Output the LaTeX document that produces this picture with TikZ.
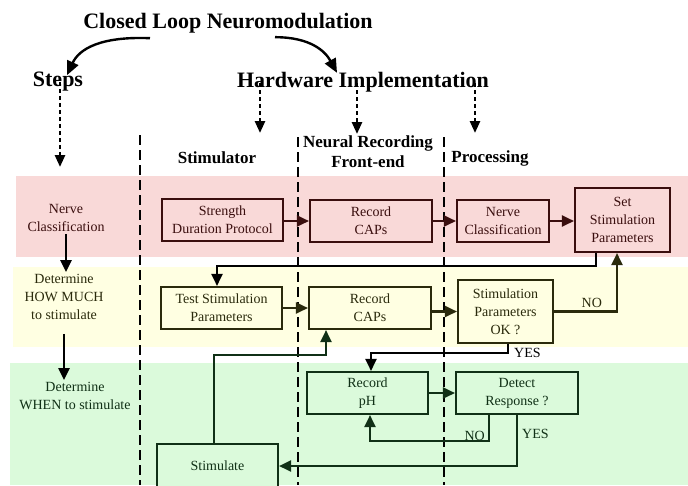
\documentclass[tikz,border=0pt]{standalone}
\usepackage{fontspec}
\setmainfont{Liberation Serif}
\usetikzlibrary{arrows.meta}
%% band and box colours
\definecolor{pinkband}{RGB}{249,217,216}
\definecolor{yellowband}{RGB}{255,255,226}
\definecolor{greenband}{RGB}{219,250,219}
\definecolor{pinkline}{RGB}{58,14,14}
\definecolor{yellowline}{RGB}{42,42,12}
\definecolor{greenline}{RGB}{16,48,22}
\begin{document}
\begin{tikzpicture}[x=1pt,y=-1pt,
  box/.style={draw, line width=2.1pt, align=center, inner sep=0pt,
    font=\fontsize{14}{18}\selectfont},
  flow/.style={line width=2.3pt, -{Triangle[length=12pt,width=11pt]}},
  curvy/.style={line width=2.4pt, -{Triangle[length=14pt,width=12pt]}},
  hint/.style={line width=2.6pt, dash pattern=on 4pt off 3pt,
    -{Triangle[length=12pt,width=10pt]}},
  divider/.style={line width=1.5pt, dash pattern=on 10pt off 5pt},
  bigtitle/.style={font=\fontsize{22}{26}\selectfont\bfseries, inner sep=0pt},
  colhead/.style={font=\fontsize{17}{20}\selectfont\bfseries, align=center, inner sep=0pt},
  steplabel/.style={font=\fontsize{14}{18}\selectfont, align=center, inner sep=2pt},
  tag/.style={font=\fontsize{14}{16}\selectfont, inner sep=1pt}]
\useasboundingbox (0,0) rectangle (688,485);
%% coloured bands, one for each step
\fill[pinkband] (16,176) rectangle (688,257);
\fill[yellowband] (13,267) rectangle (688,347);
\fill[greenband] (10,363) rectangle (688,485);
%% headings
\node[bigtitle] (title) at (228,23) {Closed Loop Neuromodulation};
\node[bigtitle] (steps) at (58,82) {Steps};
\node[bigtitle] (hw) at (363,82) {Hardware Implementation};
\draw[curvy] ([xshift=-78pt,yshift=-5pt]title.south) .. controls +(-50,-2) and +(12,-26) .. ([xshift=9pt,yshift=-3pt]steps.north);
\draw[curvy] ([xshift=47pt,yshift=-4pt]title.south) .. controls +(35,0) and +(-12,-22) .. ([xshift=-26pt,yshift=-1pt]hw.north);
\node[colhead] (stimhead) at (217,158) {Stimulator};
\node[colhead] (nrhead) at (368,152) {Neural Recording\\Front-end};
\node[colhead] (prochead) at (490,158) {Processing};
\coordinate (tipS) at (260,133);
\coordinate (tipN) at (357,134);
\coordinate (tipP) at (475,133);
\coordinate (tipL) at (60,167);
\draw[hint] ([yshift=9pt]hw.south -| tipS) -- (tipS);
\draw[hint] ([yshift=9pt]hw.south -| tipN) -- (tipN);
\draw[hint] ([yshift=9pt]hw.south -| tipP) -- (tipP);
\draw[hint] ([yshift=10pt]steps.south -| tipL) -- (tipL);
%% column dividers
\draw[divider] (140,135) -- (140,485);
\draw[divider] (298,137) -- (298,485);
\draw[divider] (444,137) -- (444,485);
%% step names on the left
\node[steplabel, pinkline] (nerveL) at (66,218) {Nerve\\Classification};
\node[steplabel, yellowline] (howL) at (64,297) {Determine\\HOW MUCH\\to stimulate};
\node[steplabel, greenline] (whenL) at (75,396) {Determine\\WHEN to stimulate};
\draw[flow, black] (nerveL.south) -- (nerveL.south |- howL.north);
\draw[flow, black, shorten <=12pt] (howL.south) -- (howL.south |- whenL.north);
%% nerve classification row
\begin{scope}[draw=pinkline, text=pinkline]
\node[box, fill=pinkband, minimum width=121pt, minimum height=42pt] (sdp) at (222.5,220) {Strength\\Duration Protocol};
\node[box, fill=pinkband, minimum width=122pt, minimum height=42pt] (rec1) at (371,221) {Record\\CAPs};
\node[box, fill=pinkband, minimum width=92pt, minimum height=42pt] (ncl) at (503,221) {Nerve\\Classification};
\node[box, fill=pinkband, minimum width=95pt, minimum height=64pt] (setp) at (622.5,220) {Set\\Stimulation\\Parameters};
\draw[flow] (sdp.east |- rec1.west) -- (rec1.west);
\draw[flow] (rec1.east) -- (ncl.west);
\draw[flow] (ncl.east) -- (ncl.east -| setp.west);
\end{scope}
%% how much row
\begin{scope}[draw=yellowline, text=yellowline]
\node[box, fill=yellowband, minimum width=121pt, minimum height=42pt] (test) at (221.5,308) {Test Stimulation\\Parameters};
\node[box, fill=yellowband, minimum width=122pt, minimum height=42pt] (rec2) at (370,308) {Record\\CAPs};
\node[box, fill=yellowband, minimum width=95pt, minimum height=63pt] (okq) at (505.5,311.5) {Stimulation\\Parameters\\OK ?};
\draw[flow, black] ([xshift=-26.5pt]setp.south) -- ++(0,13) -| ([xshift=-4.5pt]test.north);
\draw[flow] (test.east) -- (rec2.west);
\draw[flow] (rec2.east |- okq.west) -- (okq.west);
\draw[flow] (okq.east) -| node[tag, pos=0.3, above, yshift=2pt] {NO} ([xshift=-5.5pt]setp.south);
\end{scope}
%% when row
\begin{scope}[draw=greenline, text=greenline]
\node[box, fill=greenband, minimum width=121pt, minimum height=42pt] (ph) at (367.5,393) {Record\\pH};
\node[box, fill=greenband, minimum width=122pt, minimum height=42pt] (det) at (517,393) {Detect\\Response ?};
\node[box, fill=greenband, minimum width=121pt, minimum height=44pt] (stim) at (217.5,466) {Stimulate};
\draw[flow, black] ([xshift=2.5pt]okq.south) -- ++(0,9) node[tag, right, text=black, xshift=4pt, yshift=0pt] {YES} -| ([xshift=3.5pt]ph.north);
\draw[flow] (ph.east) -- (det.west);
\draw[flow] ([xshift=-28pt]det.south) -- ++(0,26) node[tag, above left, xshift=-2pt, yshift=-2pt] {NO} -| ([xshift=2.5pt]ph.south);
\draw[flow] (det.south) |- node[tag, pos=0.19, right, xshift=3pt] {YES} (stim.east);
\draw[flow] ([xshift=-3.5pt]stim.north) -- ++(0,-88) -| ([xshift=-44pt]rec2.south);
\end{scope}
\end{tikzpicture}
\end{document}
